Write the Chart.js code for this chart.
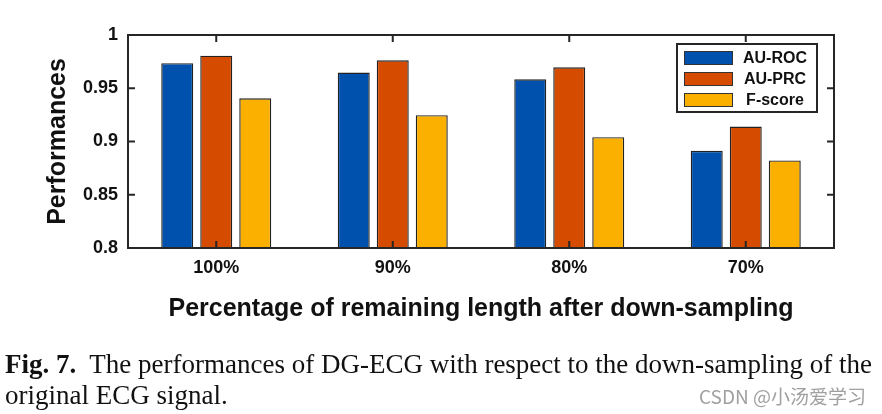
<!DOCTYPE html>
<html>
<head>
<meta charset="utf-8">
<script src="https://cdn.jsdelivr.net/npm/chart.js@4/dist/chart.umd.min.js"></script>
<style>
  body { margin: 0; background: #fff; }
  #wrap { position: relative; width: 882px; height: 414px; overflow: hidden; }
  #plot { position: absolute; left: 0; top: 0; }
  .cap { position: absolute; left: 5px; font-family: 'Liberation Serif', serif; font-size: 27px; color: #111; white-space: nowrap; }
  #wm { position: absolute; right: 16px; top: 382px; font-family: 'Noto Sans CJK SC', sans-serif; font-size: 19px; color: #a0a0a0; }
</style>
</head>
<body>
<div id="wrap">
  <canvas id="plot" width="882" height="414"></canvas>
  <div class="cap" style="top:349px"><b>Fig. 7.</b>&nbsp; The performances of DG-ECG with respect to the down-sampling of the</div>
  <div class="cap" style="top:380px">original ECG signal.</div>
  <div id="wm">CSDN @小汤爱学习</div>
</div>
<script>
var categories = ['100%', '90%', '80%', '70%']
var auRoc = [0.9735, 0.9647, 0.9584, 0.8912]
var auPrc = [0.9806, 0.9762, 0.9697, 0.9140]
var fScore = [0.9406, 0.9247, 0.9041, 0.8822]
var yTicks = [0.8, 0.85, 0.9, 0.95, 1]

var axisFont = "'Liberation Sans', Arial, sans-serif"

// box, inner ticks and the legend, drawn the matlab way
var framePlugin = {
    id: 'frame',
    afterDatasetsDraw: function(chart){
        var ctx = chart.ctx
        var a = chart.chartArea
        var x = chart.scales.x, y = chart.scales.y
        ctx.save()
        ctx.strokeStyle = '#262626'
        ctx.lineWidth = 2
        ctx.strokeRect(a.left, a.top, a.right - a.left, a.bottom - a.top)
        ctx.beginPath()
        yTicks.forEach(function(v){
            var py = y.getPixelForValue(v)
            ctx.moveTo(a.left, py); ctx.lineTo(a.left + 7, py)
            ctx.moveTo(a.right, py); ctx.lineTo(a.right - 7, py)
        })
        categories.forEach(function(c, i){
            var px = x.getPixelForValue(i)
            ctx.moveTo(px, a.bottom); ctx.lineTo(px, a.bottom - 7)
            ctx.moveTo(px, a.top); ctx.lineTo(px, a.top + 7)
        })
        ctx.stroke()

        // legend
        var lx = a.right - 157, ly = a.top + 9, lw = 140, lh = 68
        ctx.fillStyle = '#fff'
        ctx.fillRect(lx, ly, lw, lh)
        ctx.strokeRect(lx, ly, lw, lh)
        ctx.font = "bold 16px " + axisFont
        ctx.textBaseline = 'middle'
        chart.data.datasets.forEach(function(ds, i){
            var cy = ly + 14 + i * 21
            ctx.fillStyle = ds.backgroundColor
            ctx.fillRect(lx + 7, cy - 7, 49, 14)
            ctx.lineWidth = 1
            ctx.strokeStyle = '#333'
            ctx.strokeRect(lx + 7.5, cy - 6.5, 48, 13)
            ctx.fillStyle = '#111'
            ctx.textAlign = 'center'
            ctx.fillText(ds.label, lx + 98, cy + 1)
        })
        ctx.restore()
    }
}

var ctx = document.getElementById('plot').getContext('2d')
var perfChart = new Chart(ctx, {
    type: 'bar',
    data: {
        labels: categories,
        datasets: [
            {label: 'AU-ROC', data: auRoc, backgroundColor: '#0051ad', borderColor: '#222', borderWidth: 1.4},
            {label: 'AU-PRC', data: auPrc, backgroundColor: '#d54b00', borderColor: '#222', borderWidth: 1.4},
            {label: 'F-score', data: fScore, backgroundColor: '#fbb000', borderColor: '#222', borderWidth: 1.4}
        ]
    },
    options: {
        responsive: false,
        animation: false,
        categoryPercentage: 0.663,
        barPercentage: 0.82,
        layout: {padding: {left: 43, right: 48, top: 35, bottom: 86}},
        plugins: {
            legend: {display: false},
            tooltip: {enabled: false}
        },
        scales: {
            x: {
                grid: {display: false, drawTicks: false},
                border: {display: false},
                ticks: {color: '#111', padding: 9, font: {family: axisFont, size: 18, weight: 'bold'}},
                title: {display: true, text: 'Percentage of remaining length after down-sampling', color: '#111',
                        padding: {top: 0, bottom: 4}, font: {family: axisFont, size: 25, weight: 'bold'}},
                afterFit: function(s){ s.height = 80 }
            },
            y: {
                min: 0.8,
                max: 1,
                grid: {display: false, drawTicks: false},
                border: {display: false},
                ticks: {stepSize: 0.05, color: '#111', padding: 10,
                        font: {family: axisFont, size: 18, weight: 'bold'},
                        callback: function(v){ return String(+v.toFixed(2)) }},
                title: {display: true, text: 'Performances', color: '#111', padding: {top: 0, bottom: 0},
                        font: {family: axisFont, size: 25, weight: 'bold'}},
                afterFit: function(s){ s.width = 85 }
            }
        }
    },
    plugins: [framePlugin]
})
</script>
</body>
</html>
